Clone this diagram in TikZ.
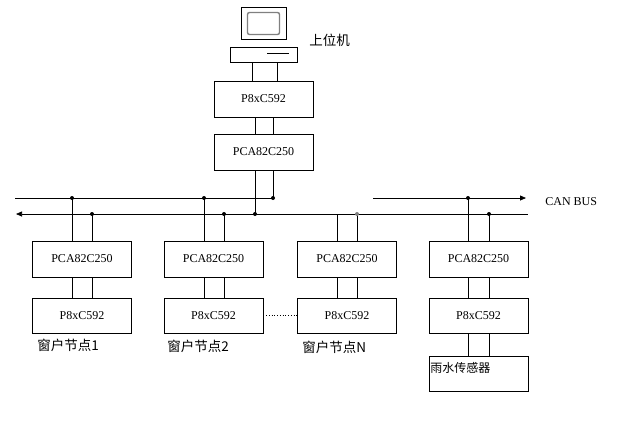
\documentclass[tikz,border=0pt]{standalone}
\usepackage{fontspec}
\setmainfont{Liberation Serif}
\newfontfamily\cjk{Noto Sans CJK SC}
\usetikzlibrary{arrows.meta}
\begin{document}
\begin{tikzpicture}[x=1pt,y=-1pt,line width=0.75pt,
  box/.style={draw,minimum width=99pt,minimum height=36pt,inner sep=0pt,font=\fontsize{12}{14}\selectfont},
  dot/.style={circle,fill,inner sep=0pt,minimum size=4pt},
  cjklabel/.style={font=\cjk\fontsize{13.5}{15}\selectfont,inner sep=0pt,anchor=west},
  tip/.style={-{Triangle[length=6pt,width=5pt]}},
  revtip/.style={{Triangle[length=6pt,width=5pt]}-}]
\useasboundingbox (0,0) rectangle (617,434);
% computer
\node[draw,minimum width=45pt,minimum height=32pt,inner sep=0pt] (monitor) at (263.5,23) {};
\node[draw,gray,line width=1.4pt,rounded corners=2pt,minimum width=32pt,minimum height=22pt,inner sep=0pt] (screen) at (263.5,23.5) {};
\node[draw,minimum width=67pt,minimum height=15pt,inner sep=0pt] (base) at (263.5,54.5) {};
\coordinate (slotL) at (267,53);
\coordinate (slotR) at (289,53);
\draw (slotL) -- (slotR);
\node[cjklabel] (host) at (309,40) {上位机};
% top node
\node[box] (topP) at (263.5,99) {P8xC592};
\node[box] (topC) at (263.5,152) {PCA82C250};
\coordinate (bx1) at (252,0);
\coordinate (bx2) at (277,0);
\coordinate (tx1) at (255,0);
\coordinate (tx2) at (273,0);
\draw (base.south -| bx1) -- (topP.north -| bx1);
\draw (base.south -| bx2) -- (topP.north -| bx2);
\draw (topP.south -| tx1) -- (topC.north -| tx1);
\draw (topP.south -| tx2) -- (topC.north -| tx2);
% buses
\coordinate (ubL) at (15,198);
\coordinate (ubM) at (273,198);
\coordinate (ubR1) at (373,198);
\coordinate (ubR) at (526,198);
\coordinate (lbL) at (16,214);
\coordinate (lbR) at (528,214);
\draw (ubL) -- (ubM);
\draw[tip] (ubR1) -- (ubR);
\draw[revtip] (lbL) -- (lbR);
\node[font=\fontsize{12}{14}\selectfont,inner sep=0pt,anchor=west] (canbus) at (545,202) {CAN BUS};
% top node to bus
\coordinate (ut) at (273,198);
\coordinate (lt) at (255,214);
\draw (topC.south -| ut) -- (ut);
\draw (topC.south -| lt) -- (lt);
\node[dot] at (ut) {};
\node[dot] at (lt) {};
% node 1
\node[box] (n1C) at (82,259) {PCA82C250};
\node[box,minimum height=35pt] (n1P) at (82,315.5) {P8xC592};
\coordinate (u1) at (72,198);
\coordinate (l1) at (92,214);
\draw (u1) -- (n1C.north -| u1);
\draw (l1) -- (n1C.north -| l1);
\draw (n1C.south -| u1) -- (n1P.north -| u1);
\draw (n1C.south -| l1) -- (n1P.north -| l1);
\node[dot] at (u1) {};
\node[dot] at (l1) {};
\node[cjklabel] (lab1) at (37,345) {窗户节点1};
% node 2
\node[box] (n2C) at (213.5,259) {PCA82C250};
\node[box,minimum height=35pt] (n2P) at (213.5,315.5) {P8xC592};
\coordinate (u2) at (204,198);
\coordinate (l2) at (224,214);
\draw (u2) -- (n2C.north -| u2);
\draw (l2) -- (n2C.north -| l2);
\draw (n2C.south -| u2) -- (n2P.north -| u2);
\draw (n2C.south -| l2) -- (n2P.north -| l2);
\node[dot] at (u2) {};
\node[dot] at (l2) {};
\node[cjklabel] (lab2) at (167,346) {窗户节点2};
% node N
\node[box] (nNC) at (347,259) {PCA82C250};
\node[box,minimum height=35pt] (nNP) at (347,315.5) {P8xC592};
\coordinate (lN1) at (337,214);
\coordinate (lN2) at (357,214);
\draw (lN1) -- (nNC.north -| lN1);
\draw (lN2) -- (nNC.north -| lN2);
\draw (nNC.south -| lN1) -- (nNP.north -| lN1);
\draw (nNC.south -| lN2) -- (nNP.north -| lN2);
\node[dot,fill=gray] at (lN2) {};
\node[cjklabel] (labN) at (302,347) {窗户节点N};
\draw[dotted] (n2P.east) -- (nNP.west);
% node 4 (rain sensor)
\node[box] (n4C) at (478.5,259) {PCA82C250};
\node[box,minimum height=35pt] (n4P) at (478.5,315.5) {P8xC592};
\node[draw,minimum width=99pt,minimum height=35pt,inner sep=0pt] (rain) at (478.5,373.5) {};
\node[font=\cjk\fontsize{12}{14}\selectfont,inner sep=0pt,anchor=west] (rainlab) at (430,368) {雨水传感器};
\coordinate (u4) at (468,198);
\coordinate (l4) at (489,214);
\draw (u4) -- (n4C.north -| u4);
\draw (l4) -- (n4C.north -| l4);
\draw (n4C.south -| u4) -- (n4P.north -| u4);
\draw (n4C.south -| l4) -- (n4P.north -| l4);
\draw (n4P.south -| u4) -- (rain.north -| u4);
\draw (n4P.south -| l4) -- (rain.north -| l4);
\node[dot] at (u4) {};
\node[dot] at (l4) {};
\end{tikzpicture}
\end{document}
